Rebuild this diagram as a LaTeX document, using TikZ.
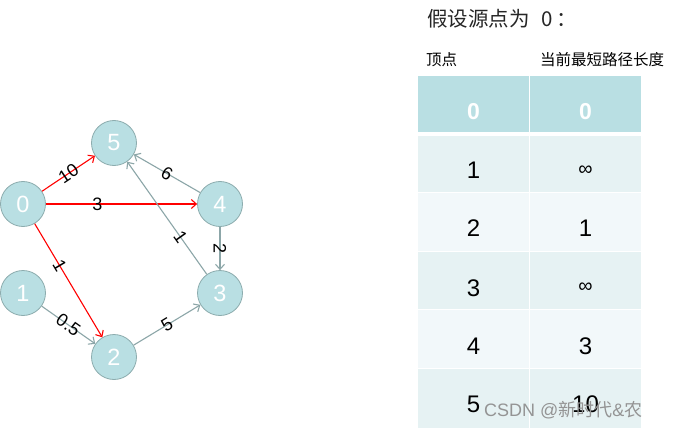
\documentclass[tikz,border=0pt]{standalone}
\usepackage{fontspec}
\setmainfont{Liberation Sans}
\newfontfamily\cjk{Noto Sans CJK SC}
\usetikzlibrary{arrows.meta}
\definecolor{nodefill}{RGB}{185,223,227}
\definecolor{nodeline}{RGB}{140,172,174}
\definecolor{grayedge}{RGB}{140,166,168}
\definecolor{rowA}{RGB}{230,242,243}
\definecolor{rowB}{RGB}{242,248,250}
\definecolor{hdrfill}{RGB}{185,223,227}
\begin{document}
\begin{tikzpicture}[x=1pt,y=-1pt,
  vtx/.style={circle,minimum size=45pt,inner sep=0pt,fill=nodefill,draw=nodeline,line width=0.8pt,text=white,font=\fontsize{23.5}{23.5}\selectfont},
  rede/.style={draw=red,line width=1.1pt,-{Straight Barb[length=5pt,width=9pt]}},
  graye/.style={draw=grayedge,line width=1.1pt,-{Straight Barb[length=5pt,width=9pt]}},
  lbl/.style={sloped,inner sep=0pt,font=\fontsize{18}{18}\selectfont,text=black},
  celltxt/.style={inner sep=0pt,font=\fontsize{24}{24}\selectfont,text=black},
  inftxt/.style={inner sep=0pt,font=\fontsize{20}{20}\selectfont,text=black},
  hdrtxt/.style={inner sep=0pt,font=\fontsize{23}{23}\selectfont\bfseries,text=white}
]
\useasboundingbox (0,0) rectangle (678,428);
\fill[white] (0,0) rectangle (678,428);

% graph nodes
\node[vtx] (v0) at (23,204) {0};
\node[vtx] (v5) at (114,143) {5};
\node[vtx] (v4) at (220,204) {4};
\node[vtx] (v1) at (23,293) {1};
\node[vtx] (v3) at (220,293) {3};
\node[vtx] (v2) at (114,357) {2};

% edges
\draw[rede] (v0) -- node[lbl,pos=0.5]{10} (v5);
\draw[rede] (v0) -- node[lbl,pos=0.34]{3} (v4);
\draw[rede] (v0) -- node[lbl,pos=0.37]{1} (v2);
\draw[graye] (v4) -- node[lbl,pos=0.5]{6} (v5);
\draw[graye] (v3) -- node[lbl,pos=0.33]{1} (v5);
\draw[graye] (v4) -- node[lbl,pos=0.5]{2} (v3);
\draw[graye] (v1) -- node[lbl,pos=0.5]{0.5} (v2);
\draw[graye] (v2) -- node[lbl,pos=0.5]{5} (v3);

% title and headers
\node[anchor=west,inner sep=0pt,font=\cjk\fontsize{20.5}{20.5}\selectfont,text=black!85] (title) at (427,19) {假设源点为\hspace{12pt}0\hspace{3pt}：};
\node[anchor=west,inner sep=0pt,font=\cjk\fontsize{15.5}{15.5}\selectfont] (hv) at (426,60) {顶点};
\node[anchor=west,inner sep=0pt,font=\cjk\fontsize{15.5}{15.5}\selectfont] (hd) at (540,60) {当前最短路径长度};

% table cells
\fill[hdrfill] (418,76) rectangle (529,132);
\fill[hdrfill] (530,76) rectangle (641,132);
\fill[rowA] (418,136) rectangle (529,192);
\fill[rowA] (530,136) rectangle (641,192);
\fill[rowB] (418,193) rectangle (529,251);
\fill[rowB] (530,193) rectangle (641,251);
\fill[rowA] (418,252) rectangle (529,309);
\fill[rowA] (530,252) rectangle (641,309);
\fill[rowB] (418,310) rectangle (529,368);
\fill[rowB] (530,310) rectangle (641,368);
\fill[rowA] (418,369) rectangle (529,428);
\fill[rowA] (530,369) rectangle (641,428);

% table text
\node[hdrtxt] (t00) at (473.5,111.5) {0};
\node[hdrtxt] (t01) at (585.5,111.5) {0};
\node[celltxt] (t10) at (473.5,170.5) {1};
\node[inftxt] (t11) at (585.5,170.5) {∞};
\node[celltxt] (t20) at (473.5,228.5) {2};
\node[celltxt] (t21) at (585.5,228.5) {1};
\node[celltxt] (t30) at (473.5,288) {3};
\node[inftxt] (t31) at (585.5,288) {∞};
\node[celltxt] (t40) at (473.5,346) {4};
\node[celltxt] (t41) at (585.5,346) {3};
\node[celltxt] (t50) at (473.5,404.5) {5};
\node[celltxt] (t51) at (585.5,404.5) {10};

% watermark
\node[anchor=west,inner sep=0pt,text=black!42,font=\fontsize{18}{18}\selectfont] (wm) at (484,410) {CSDN @{\cjk 新时代}\&{\cjk 农}};
\end{tikzpicture}
\end{document}
